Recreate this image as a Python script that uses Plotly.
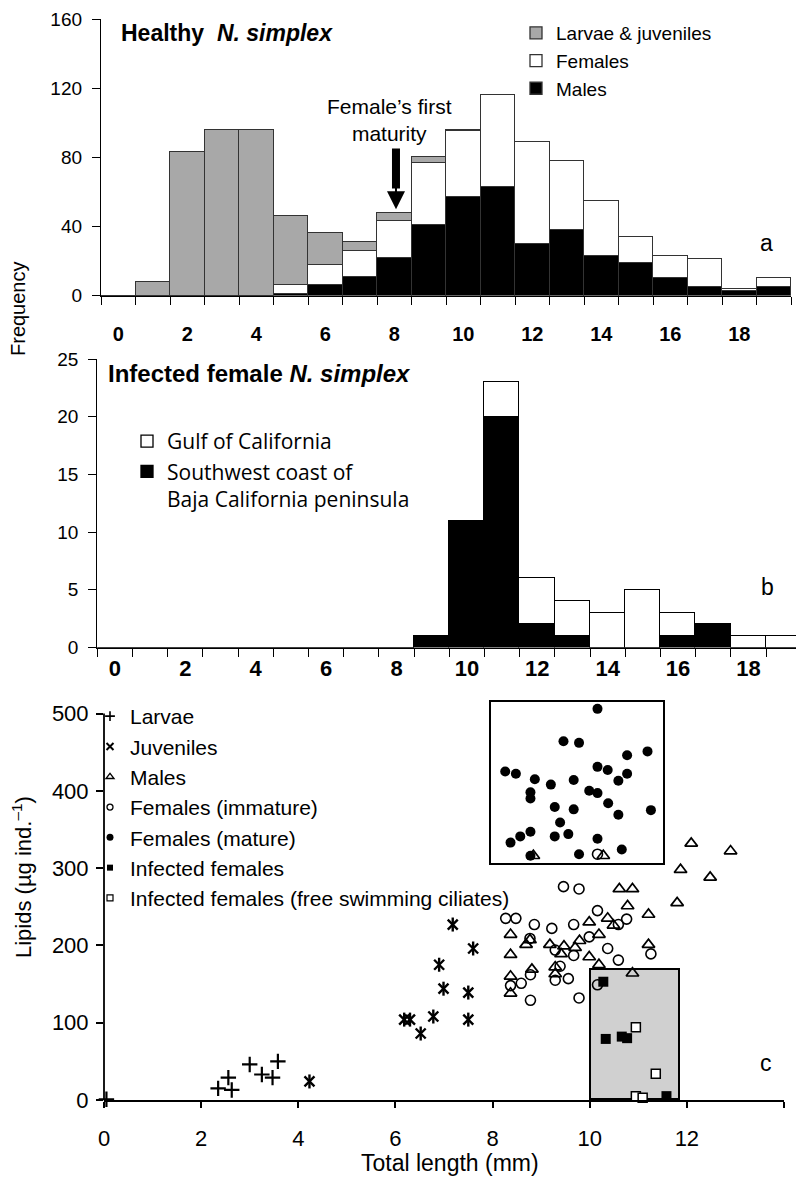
import plotly.graph_objects as go

W, H = 796, 1178

# ---------------- data ----------------
# Panel a: healthy N. simplex, length classes (mm)
bins_a = list(range(20))
males_a = [0, 0, 0, 0, 0, 1, 6, 11, 22, 41, 57, 63, 30, 38, 23, 19, 10, 5, 3, 5]
females_a = [0, 0, 0, 0, 0, 5, 12, 15, 21, 36, 38, 53, 59, 40, 32, 15, 13, 16, 1, 5]
larvjuv_a = [0, 8, 83, 96, 96, 40, 18, 5, 5, 3, 1, 0, 0, 0, 0, 0, 0, 0, 0, 0]
yticks_a = [0, 40, 80, 120, 160]

# Panel b: infected female N. simplex
bins_b = list(range(20))
southwest_b = [0, 0, 0, 0, 0, 0, 0, 0, 0, 1, 11, 20, 2, 1, 0, 0, 1, 2, 0, 0]
gulf_b = [0, 0, 0, 0, 0, 0, 0, 0, 0, 0, 0, 3, 4, 3, 3, 5, 2, 0, 1, 1]
yticks_b = [0, 5, 10, 15, 20, 25]

xlabels_ab = [0, 2, 4, 6, 8, 10, 12, 14, 16, 18]

# Panel c: lipids vs total length
xticks_c = [0, 2, 4, 6, 8, 10, 12, 14]
yticks_c = [0, 100, 200, 300, 400, 500]

larvae_x = [0.05, 2.35, 2.56, 2.63, 3.00, 3.25, 3.47, 3.58]
larvae_y = [1, 15, 29, 13, 46, 33, 29, 50]

juv_x = [4.23, 6.18, 6.30, 6.52, 6.78, 6.90, 6.99, 7.18, 7.50, 7.50, 7.60]
juv_y = [24, 104, 104, 86, 108, 175, 144, 227, 139, 104, 196]

males_x = [12.09, 12.90, 11.87, 12.48, 10.61, 10.88, 10.78, 11.80, 11.21, 9.99,
           10.37, 10.49, 10.19, 8.37, 8.69, 8.77, 9.18, 9.47, 9.70, 9.79,
           9.41, 8.37, 9.99, 10.19, 11.21, 9.29, 8.81, 9.29, 8.37, 8.37,
           10.88, 8.84, 10.28]
males_y = [332, 322, 298, 288, 273, 273, 251, 255, 240, 230,
           235, 226, 214, 214, 201, 207, 201, 199, 197, 206,
           189, 188, 185, 175, 201, 172, 169, 163, 160, 138,
           164, 316, 316]

fimm_x = [9.46, 9.78, 8.27, 8.48, 8.86, 9.22, 9.67, 10.16, 10.76, 10.59,
          9.99, 8.77, 9.29, 9.67, 10.37, 10.59, 11.26, 9.39, 8.78, 9.29,
          9.56, 8.59, 8.37, 10.16, 8.78, 9.78, 10.16]
fimm_y = [276, 273, 235, 235, 227, 222, 227, 245, 234, 227,
          211, 209, 194, 187, 196, 181, 189, 173, 162, 155,
          157, 151, 148, 149, 129, 132, 318]

fmat_x = [10.16, 9.46, 9.78, 10.77, 11.19, 8.26, 8.48, 8.87, 9.20, 9.67,
          10.16, 10.37, 10.77, 10.59, 9.99, 10.16, 8.78, 8.78, 9.28, 9.67,
          10.38, 10.59, 11.26, 9.39, 8.37, 8.57, 8.78, 9.28, 9.56, 10.16,
          10.66, 8.78, 9.78]
fmat_y = [506, 464, 462, 446, 451, 425, 422, 415, 408, 414,
          431, 427, 422, 413, 400, 397, 398, 390, 379, 376,
          384, 369, 375, 359, 333, 341, 347, 341, 344, 338,
          324, 316, 318]

inf_x = [10.28, 10.33, 10.66, 10.77, 11.58]
inf_y = [153, 79, 82, 80, 5]

infc_x = [10.95, 11.36, 10.95, 11.09]
infc_y = [94, 34, 5, 3]

# grey box (infected females range) and outlined inset box, data units
infbox_x = [10.02, 11.86]
infbox_y = [0, 168]
inset_x = [7.95, 11.52]
inset_y = [305, 516]

# ---------------- helpers ----------------
def px(x):
    return x / W

def py(y):
    return 1 - y / H

FONT = "Liberation Sans, Arial, Helvetica, sans-serif"

fig = go.Figure()

# ---------------- panel a ----------------
fig.add_trace(go.Bar(x=bins_a, y=males_a, name="Males", xaxis="x", yaxis="y",
                     marker=dict(color="black", line=dict(color="#333333", width=1.3)),
                     legend="legend", legendrank=3))
fig.add_trace(go.Bar(x=bins_a, y=females_a, name="Females", xaxis="x", yaxis="y",
                     marker=dict(color="white", line=dict(color="#333333", width=1.3)),
                     legend="legend", legendrank=2))
fig.add_trace(go.Bar(x=bins_a, y=larvjuv_a, name="Larvae &amp; juveniles", xaxis="x", yaxis="y",
                     marker=dict(color="#a8a8a8", line=dict(color="#333333", width=1.3)),
                     legend="legend", legendrank=1))

# ---------------- panel b ----------------
fig.add_trace(go.Bar(x=bins_b, y=southwest_b, name="Southwest coast of<br>Baja California peninsula",
                     xaxis="x2", yaxis="y2",
                     marker=dict(color="black", line=dict(color="black", width=1.3)),
                     legend="legend2", legendrank=2))
fig.add_trace(go.Bar(x=bins_b, y=gulf_b, name="Gulf of California", xaxis="x2", yaxis="y2",
                     marker=dict(color="white", line=dict(color="black", width=1.3)),
                     legend="legend2", legendrank=1))

# ---------------- panel c ----------------
fig.add_trace(go.Bar(x=[(infbox_x[0] + infbox_x[1]) / 2], y=[infbox_y[1] - infbox_y[0]],
                     base=[infbox_y[0]], width=[infbox_x[1] - infbox_x[0]],
                     xaxis="x3", yaxis="y3", showlegend=False,
                     marker=dict(color="#d0d0d0", line=dict(color="black", width=1.6))))
fig.add_trace(go.Bar(x=[(inset_x[0] + inset_x[1]) / 2], y=[inset_y[1] - inset_y[0]],
                     base=[inset_y[0]], width=[inset_x[1] - inset_x[0]],
                     xaxis="x3", yaxis="y3", showlegend=False,
                     marker=dict(color="rgba(0,0,0,0)", line=dict(color="black", width=2))))

def sc(x, y, symbol, size, lw=1.6, color="black", fill=None):
    m = dict(symbol=symbol, size=size, color=color, line=dict(color="black", width=lw))
    if fill is not None:
        m["color"] = fill
    return go.Scatter(x=x, y=y, mode="markers", xaxis="x3", yaxis="y3",
                      showlegend=False, cliponaxis=False, marker=m, hoverinfo="x+y")

fig.add_trace(sc(larvae_x, larvae_y, "cross-thin-open", 11, 2.2))
fig.add_trace(sc(juv_x, juv_y, "x-thin-open", 10, 2.4))
fig.add_trace(sc(juv_x, juv_y, "line-ns-open", 10, 2.4))
fig.add_trace(sc(males_x, males_y, "triangle-up-open", 11, 1.7))
fig.add_trace(sc(fimm_x, fimm_y, "circle-open", 10, 1.6))
fig.add_trace(sc(fmat_x, fmat_y, "circle", 10, 0))
fig.add_trace(sc(inf_x, inf_y, "square", 10, 0))
fig.add_trace(sc(infc_x, infc_y, "square", 9, 1.5, fill="white"))

# legend-only keys for panel c
legend_c = [
    ("Larvae", "cross-thin-open", 7, 1.6, "black"),
    ("Juveniles", "x-thin-open", 7, 2.0, "black"),
    ("Males", "triangle-up-open", 7, 1.3, "black"),
    ("Females (immature)", "circle-open", 6, 1.3, "black"),
    ("Females (mature)", "circle", 7, 0, "black"),
    ("Infected females", "square", 6, 0, "black"),
    ("Infected females (free swimming ciliates)", "square", 6, 1.2, "white"),
]
for i, (nm, sym, sz, lw, col) in enumerate(legend_c):
    fig.add_trace(go.Scatter(x=[None], y=[None], mode="markers", name=nm, xaxis="x3", yaxis="y3",
                             legend="legend3", legendrank=i + 1,
                             marker=dict(symbol=sym, size=sz, color=col,
                                         line=dict(color="black", width=lw))))

# ---------------- axes ----------------
def axis(lw=1.3, tickcolor="black", ticklen=8, **kw):
    d = dict(showgrid=False, zeroline=False, showline=True, linecolor="black",
             linewidth=lw, tickcolor=tickcolor, ticks="outside", ticklen=ticklen, tickwidth=lw,
             automargin=False)
    d.update(kw)
    return d

minor_bounds = dict(tickmode="array", tickvals=[b - 0.5 for b in bins_a] + [bins_a[-1] + 0.5],
                    ticks="outside", ticklen=8, tickwidth=1.3, tickcolor="black")

yc_top = 520  # a little head-room so the inset box can exceed the 500 tick
fig.update_layout(
    xaxis=axis(tickcolor="rgba(0,0,0,0)",
               domain=[px(101), px(791)], range=[-0.5, 19.5], anchor="y",
               tickmode="array", tickvals=xlabels_ab, ticktext=[str(v) for v in xlabels_ab],
               tickfont=dict(family=FONT, size=20, color="black", weight=700),
               ticklabelstandoff=12, minor=minor_bounds),
    yaxis=axis(domain=[py(295.7), py(19)], range=[0, 160], anchor="x",
               tickmode="array", tickvals=yticks_a,
               tickfont=dict(family=FONT, size=19, color="black"), ticklabelstandoff=6),
    xaxis2=axis(tickcolor="rgba(0,0,0,0)", ticklen=1,
                domain=[px(97.3), 1.0], range=[-0.5, -0.5 + (W - 97.3) / 35.2], anchor="y2",
                tickmode="array", tickvals=xlabels_ab, ticktext=[str(v) for v in xlabels_ab],
                tickfont=dict(family="Liberation Sans Narrow, " + FONT, size=22, color="black", weight=700),
                ticklabelstandoff=0, minor=minor_bounds),
    yaxis2=axis(domain=[py(647.5), py(359)], range=[0, 25], anchor="x2",
                tickmode="array", tickvals=yticks_b,
                tickfont=dict(family=FONT, size=19, color="black"), ticklabelstandoff=6),
    xaxis3=axis(lw=1.8, ticklen=6, domain=[px(104), px(784)], range=[0, 14], anchor="y3",
                tickmode="array", tickvals=xticks_c,
                tickfont=dict(family=FONT, size=22, color="black"), ticklabelstandoff=12),
    yaxis3=axis(lw=1.8, ticklen=7, domain=[py(1100), py(1100 - 0.773 * yc_top)], range=[0, yc_top],
                anchor="x3", showline=False, tickmode="array", tickvals=yticks_c,
                tickfont=dict(family=FONT, size=22, color="black"), ticklabelstandoff=3),
)
# y-axis line of panel c, only up to the last tick
fig.add_shape(type="line", xref="x3 domain", yref="y3", x0=0, x1=0,
              y0=yticks_c[0], y1=yticks_c[-1], line=dict(color="black", width=1.8))

# ---------------- legends ----------------
fig.update_layout(
    legend=dict(x=px(516), y=py(14), xanchor="left", yanchor="top", bgcolor="rgba(0,0,0,0)",
                font=dict(family=FONT, size=19, color="black"), traceorder="normal",
                itemwidth=30, tracegroupgap=0),
    legend2=dict(x=px(127), y=py(421), xanchor="left", yanchor="top", bgcolor="rgba(0,0,0,0)",
                 font=dict(family="Open Sans, " + FONT, size=21, color="black"), traceorder="normal",
                 valign="top", itemwidth=30, tracegroupgap=0),
    legend3=dict(x=px(90), y=py(696), xanchor="left", yanchor="top", bgcolor="rgba(0,0,0,0)",
                 font=dict(family=FONT, size=21, color="black"), traceorder="normal",
                 itemwidth=30, tracegroupgap=0),
)

# ---------------- annotations ----------------
def ann(text, x, y, size=22, xanchor="center", yanchor="middle", angle=0, family=FONT):
    return dict(text=text, x=px(x), y=py(y), xref="paper", yref="paper", showarrow=False,
                xanchor=xanchor, yanchor=yanchor, textangle=angle,
                font=dict(family=family, size=size, color="black"))

annotations = [
    ann("<b>Healthy&nbsp;&nbsp;<i>N. simplex</i></b>", 119, 33, 23, xanchor="left"),
    ann("<b>Infected female <i>N. simplex</i></b>", 106, 373, 24, xanchor="left"),
    ann("Female’s first<br>maturity", 389, 120, 21),
    ann("a", 766, 243, 23),
    ann("b", 767, 587, 23),
    ann("c", 766, 1063, 23),
    ann("Frequency", 18, 309, 20, angle=-90),
    ann("Lipids (µg ind.<sup>–1</sup>)", 22, 877, 22, angle=-90),
    ann("Total length (mm)", 450, 1163, 23),
]
# arrow: thick shaft + head
annotations.append(dict(x=8.05, y=62, ax=8.05, ay=86, xref="x", yref="y", axref="x", ayref="y",
                        text="", showarrow=True, arrowhead=0, arrowwidth=8, arrowcolor="black"))
annotations.append(dict(x=8.05, y=50, ax=8.05, ay=64, xref="x", yref="y", axref="x", ayref="y",
                        text="", showarrow=True, arrowhead=2, arrowwidth=2, arrowsize=1.8,
                        arrowcolor="black"))

fig.update_layout(
    annotations=annotations,
    width=W, height=H, margin=dict(l=0, r=0, t=0, b=0, autoexpand=False),
    paper_bgcolor="white", plot_bgcolor="white",
    barmode="stack", bargap=0,
    font=dict(family=FONT, color="black"),
)

fig.write_html("out.html", config={"displayModeBar": False},
               post_script="document.body.style.margin='0';document.body.style.overflow='hidden';")
